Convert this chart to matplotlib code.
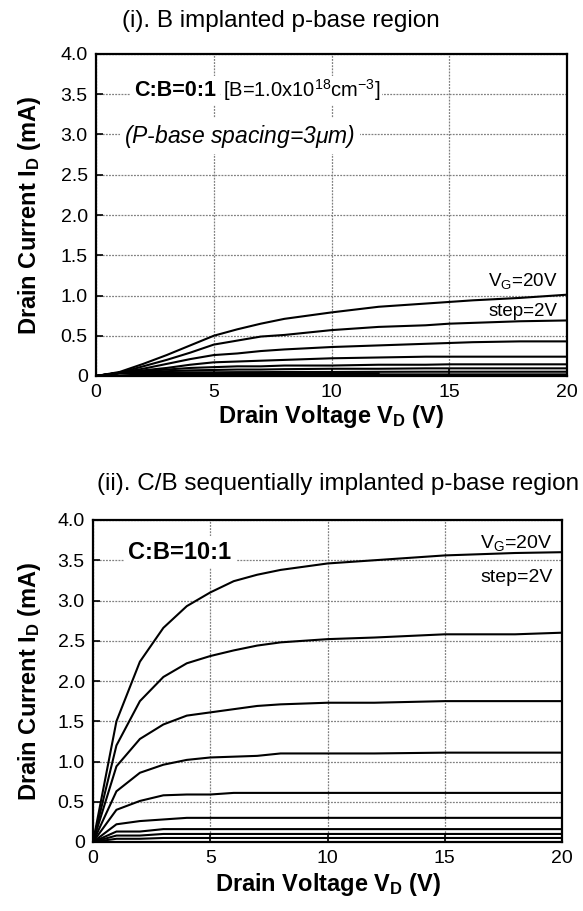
import numpy as np
import matplotlib
matplotlib.use("Agg")
import matplotlib.pyplot as plt

plt.rcParams["font.family"] = ["Liberation Sans", "DejaVu Sans"]
plt.rcParams["mathtext.fontset"] = "custom"
plt.rcParams["mathtext.rm"] = "Liberation Sans"
plt.rcParams["mathtext.it"] = "Liberation Sans:italic"
plt.rcParams["mathtext.bf"] = "Liberation Sans:bold"

# (i) B implanted p-base, I_D (mA) vs V_D (V), V_G = 20 V down in 2 V steps
vd_b = [0, 1, 2, 3, 4, 5, 6, 7, 8, 10, 12, 14, 15, 16, 18, 20]
id_b = {
    20: [0, 0.05, 0.15, 0.26, 0.38, 0.50, 0.58, 0.65, 0.71, 0.79, 0.86, 0.90, 0.92, 0.94, 0.97, 1.01],
    18: [0, 0.04, 0.12, 0.20, 0.29, 0.39, 0.44, 0.49, 0.51, 0.57, 0.61, 0.63, 0.65, 0.66, 0.68, 0.69],
    16: [0, 0.04, 0.09, 0.15, 0.21, 0.26, 0.28, 0.31, 0.33, 0.36, 0.38, 0.40, 0.41, 0.42, 0.43, 0.43],
    14: [0, 0.04, 0.07, 0.10, 0.14, 0.17, 0.18, 0.19, 0.20, 0.22, 0.23, 0.24, 0.24, 0.24, 0.24, 0.24],
    12: [0, 0.04, 0.06, 0.08, 0.10, 0.11, 0.12, 0.12, 0.13, 0.13, 0.14, 0.14, 0.145, 0.145, 0.145, 0.145],
    10: [0, 0.04, 0.05, 0.06, 0.07, 0.075, 0.08, 0.08, 0.085, 0.09, 0.09, 0.095, 0.095, 0.095, 0.095, 0.095],
    8:  [0, 0.04, 0.045, 0.045, 0.046, 0.046, 0.048, 0.048, 0.05, 0.05, 0.052, 0.053, 0.053, 0.053, 0.053, 0.053],
    6:  [0, 0.03, 0.02, 0.02, 0.02, 0.02, 0.02, 0.02, 0.02, 0.02, 0.02, 0.02, 0.02, 0.02, 0.02, 0.02],
    4:  [0, 0.035, 0.035, 0.035, 0.035, 0.035, 0.035, 0.035, 0.035, 0.035, 0.035, None, None, None, None, None],
}

# (ii) C/B sequentially implanted p-base
vd_cb = [0, 1, 2, 3, 4, 5, 6, 7, 8, 10, 12, 15, 18, 20]
id_cb = {
    20: [0, 1.50, 2.24, 2.66, 2.93, 3.10, 3.24, 3.32, 3.38, 3.46, 3.50, 3.56, 3.59, 3.60],
    18: [0, 1.20, 1.75, 2.05, 2.22, 2.31, 2.38, 2.44, 2.48, 2.52, 2.54, 2.58, 2.58, 2.60],
    16: [0, 0.94, 1.28, 1.46, 1.57, 1.61, 1.65, 1.69, 1.71, 1.73, 1.73, 1.75, 1.75, 1.75],
    14: [0, 0.63, 0.86, 0.96, 1.02, 1.05, 1.06, 1.07, 1.10, 1.10, 1.10, 1.11, 1.11, 1.11],
    12: [0, 0.40, 0.51, 0.58, 0.59, 0.59, 0.61, 0.61, 0.61, 0.61, 0.61, 0.61, 0.61, 0.61],
    10: [0, 0.22, 0.26, 0.28, 0.30, 0.30, 0.30, 0.30, 0.30, 0.30, 0.30, 0.30, 0.30, 0.30],
    8:  [0, 0.13, 0.13, 0.16, 0.16, 0.16, 0.16, 0.16, 0.16, 0.16, 0.16, 0.16, 0.16, 0.16],
    6:  [0, 0.08, 0.08, 0.10, 0.10, 0.10, 0.10, 0.10, 0.10, 0.10, 0.10, 0.10, 0.10, 0.10],
    4:  [0, 0.04, 0.04, 0.05, 0.05, 0.05, 0.05, 0.05, 0.05, 0.05, 0.05, 0.05, 0.05, 0.05],
}

xticks = [0, 5, 10, 15, 20]
yticks = [0, 0.5, 1.0, 1.5, 2.0, 2.5, 3.0, 3.5, 4.0]
ytick_labels = ["0", "0.5", "1.0", "1.5", "2.0", "2.5", "3.0", "3.5", "4.0"]
xtick_labels = ["0", "5", "10", "15", "20"]

W, H = 583, 911
fig = plt.figure(figsize=(W / 100, H / 100), dpi=100)


def px_axes(left, top, right, bottom):
    return fig.add_axes([left / W, 1 - bottom / H, (right - left) / W, (bottom - top) / H])


def setup(ax, vd, curves):
    for vg, vals in curves.items():
        y = np.array([np.nan if v is None else v for v in vals], dtype=float)
        ax.plot(vd, y, color="black", lw=1.5, solid_joinstyle="miter")
    ax.set_xlim(0, 20)
    ax.set_ylim(0, 4.0)
    ax.set_xticks(xticks, xtick_labels)
    ax.set_yticks(yticks, ytick_labels)
    ax.grid(True, color="#808080", lw=0.9, ls=(0, (1.5, 1)))
    ax.set_axisbelow(True)
    ax.tick_params(direction="in", length=5, width=1.2, labelsize=14, pad=6)
    for s in ax.spines.values():
        s.set_linewidth(1.6)


white = dict(facecolor="white", edgecolor="none", pad=3)
LBL = dict(fontsize=17, fontweight="bold", ha="center", va="center")

# ---- (i) ----
ax1 = px_axes(96, 54, 567, 376)
setup(ax1, vd_b, id_b)
fig.text(281 / W, 1 - 21 / H, "(i). B implanted p-base region",
         fontsize=17.5, ha="center", va="center")
t = ax1.text(1.6, 3.55, "C:B=0:1", fontsize=15.5, fontweight="bold",
             va="center", bbox=white)
ax1.annotate(r"[B=1.0x10$^{18}$cm$^{-3}$]", xy=(1, 0.5), xycoords=t,
             xytext=(5, 0), textcoords="offset points",
             fontsize=14.5, va="center", bbox=dict(facecolor="white", edgecolor="none", pad=1))
ax1.text(1.2, 2.98, r"(P-base spacing=3$\mu$m)", fontsize=16.5, style="italic",
         va="center", bbox=white)
ax1.text(19.6, 1.18, r"V$_\mathregular{G}$=20V", fontsize=13.5, ha="right", va="center")
ax1.text(19.6, 0.80, "step=2V", fontsize=13.5, ha="right", va="center")
fig.text(331 / W, 1 - 416 / H, r"Drain Voltage V$_\mathbf{D}$ (V)", **LBL)
fig.text(30 / W, 1 - 215 / H, r"Drain Current I$_\mathbf{D}$ (mA)", rotation=90, **LBL)

# ---- (ii) ----
ax2 = px_axes(93, 520, 562, 842)
setup(ax2, vd_cb, id_cb)
fig.text(338 / W, 1 - 484 / H, "(ii). C/B sequentially implanted p-base region",
         fontsize=17.5, ha="center", va="center")
ax2.text(1.5, 3.6, "C:B=10:1", fontsize=17, fontweight="bold",
         va="center", bbox=white)
ax2.text(19.6, 3.72, r"V$_\mathregular{G}$=20V", fontsize=14, ha="right", va="center")
ax2.text(19.6, 3.28, "step=2V", fontsize=14, ha="right", va="center")
fig.text(328 / W, 1 - 884 / H, r"Drain Voltage V$_\mathbf{D}$ (V)", **LBL)
fig.text(30 / W, 1 - 681 / H, r"Drain Current I$_\mathbf{D}$ (mA)", rotation=90, **LBL)

fig.savefig("out.png", dpi=100)
